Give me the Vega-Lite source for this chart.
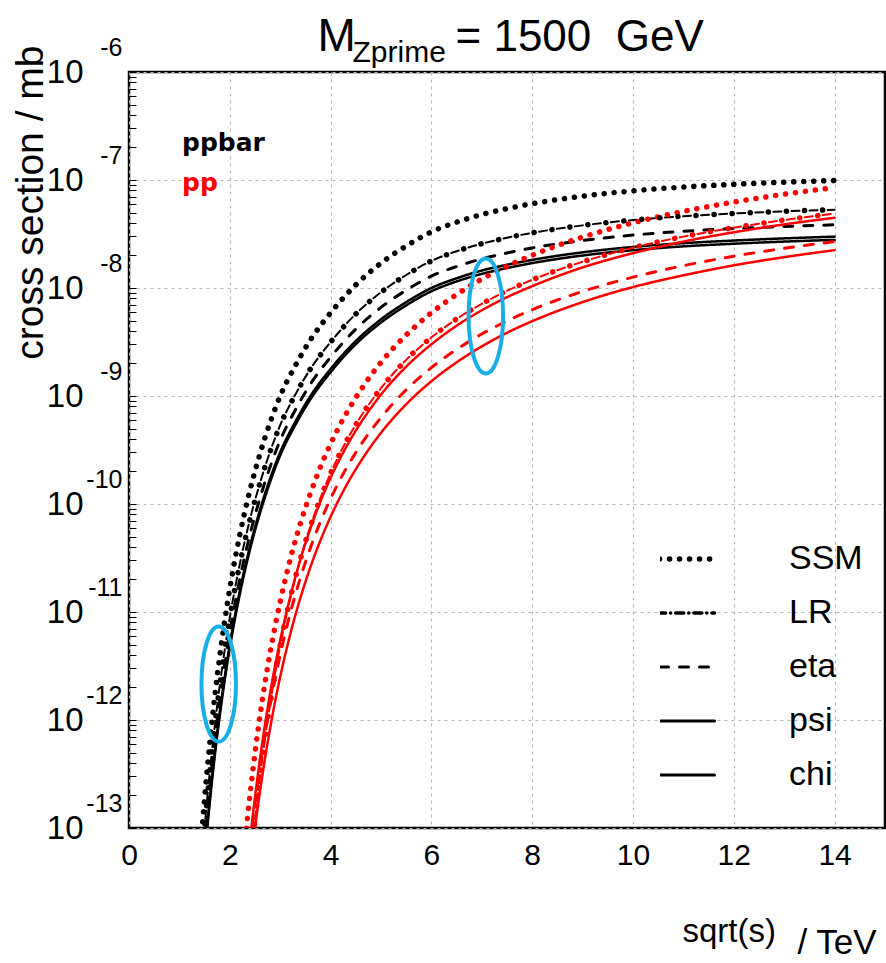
{
  "$schema": "https://vega.github.io/schema/vega-lite/v6.json",
  "width": 756,
  "height": 756,
  "autosize": "none",
  "padding": {"left": 129, "top": 72, "right": 1, "bottom": 135},
  "background": "white",
  "config": {
    "view": {"stroke": "black", "strokeWidth": 2.5},
    "font": "Liberation Sans",
    "axis": {"labelFont": "Liberation Sans", "titleFont": "Liberation Sans", "labelColor": "black", "titleColor": "black", "titleFontWeight": "normal"},
    "legend": {"labelFont": "Liberation Sans", "labelColor": "black"}
  },
  "datasets": {
    "curves": [
      {"rs":1.4,"sigma":4.85e-14,"model":"SSM","beam":"ppbar"},{"rs":1.5,"sigma":1.88e-13,"model":"SSM","beam":"ppbar"},{"rs":1.6,"sigma":5.96e-13,"model":"SSM","beam":"ppbar"},{"rs":1.7,"sigma":1.62e-12,"model":"SSM","beam":"ppbar"},{"rs":1.8,"sigma":3.87e-12,"model":"SSM","beam":"ppbar"},{"rs":1.9,"sigma":8.34e-12,"model":"SSM","beam":"ppbar"},{"rs":2.0,"sigma":1.65e-11,"model":"SSM","beam":"ppbar"},{"rs":2.2,"sigma":5.22e-11,"model":"SSM","beam":"ppbar"},{"rs":2.4,"sigma":1.34e-10,"model":"SSM","beam":"ppbar"},{"rs":2.6,"sigma":2.93e-10,"model":"SSM","beam":"ppbar"},{"rs":2.8,"sigma":5.69e-10,"model":"SSM","beam":"ppbar"},{"rs":3.0,"sigma":1e-9,"model":"SSM","beam":"ppbar"},{"rs":3.3,"sigma":1.91e-9,"model":"SSM","beam":"ppbar"},{"rs":3.6,"sigma":3.31e-9,"model":"SSM","beam":"ppbar"},{"rs":4.0,"sigma":5.89e-9,"model":"SSM","beam":"ppbar"},{"rs":4.5,"sigma":1.07e-8,"model":"SSM","beam":"ppbar"},{"rs":5.0,"sigma":1.7e-8,"model":"SSM","beam":"ppbar"},{"rs":5.5,"sigma":2.45e-8,"model":"SSM","beam":"ppbar"},{"rs":6,"sigma":3.31e-8,"model":"SSM","beam":"ppbar"},{"rs":6.5,"sigma":4.07e-8,"model":"SSM","beam":"ppbar"},{"rs":7,"sigma":4.79e-8,"model":"SSM","beam":"ppbar"},{"rs":7.5,"sigma":5.43e-8,"model":"SSM","beam":"ppbar"},{"rs":8,"sigma":6.03e-8,"model":"SSM","beam":"ppbar"},{"rs":9,"sigma":7.08e-8,"model":"SSM","beam":"ppbar"},{"rs":10,"sigma":7.94e-8,"model":"SSM","beam":"ppbar"},{"rs":11,"sigma":8.61e-8,"model":"SSM","beam":"ppbar"},{"rs":12,"sigma":9.12e-8,"model":"SSM","beam":"ppbar"},{"rs":13,"sigma":9.55e-8,"model":"SSM","beam":"ppbar"},{"rs":14,"sigma":9.89e-8,"model":"SSM","beam":"ppbar"},
      {"rs":1.4,"sigma":2.6e-14,"model":"LR","beam":"ppbar"},{"rs":1.5,"sigma":1.01e-13,"model":"LR","beam":"ppbar"},{"rs":1.6,"sigma":3.2e-13,"model":"LR","beam":"ppbar"},{"rs":1.7,"sigma":8.7e-13,"model":"LR","beam":"ppbar"},{"rs":1.8,"sigma":2.08e-12,"model":"LR","beam":"ppbar"},{"rs":1.9,"sigma":4.48e-12,"model":"LR","beam":"ppbar"},{"rs":2.0,"sigma":8.86e-12,"model":"LR","beam":"ppbar"},{"rs":2.2,"sigma":2.8e-11,"model":"LR","beam":"ppbar"},{"rs":2.4,"sigma":7.2e-11,"model":"LR","beam":"ppbar"},{"rs":2.6,"sigma":1.57e-10,"model":"LR","beam":"ppbar"},{"rs":2.8,"sigma":3.06e-10,"model":"LR","beam":"ppbar"},{"rs":3.0,"sigma":5.37e-10,"model":"LR","beam":"ppbar"},{"rs":3.3,"sigma":1.03e-9,"model":"LR","beam":"ppbar"},{"rs":3.6,"sigma":1.78e-9,"model":"LR","beam":"ppbar"},{"rs":4.0,"sigma":3.16e-9,"model":"LR","beam":"ppbar"},{"rs":4.5,"sigma":5.75e-9,"model":"LR","beam":"ppbar"},{"rs":5.0,"sigma":9.13e-9,"model":"LR","beam":"ppbar"},{"rs":5.5,"sigma":1.32e-8,"model":"LR","beam":"ppbar"},{"rs":6,"sigma":1.78e-8,"model":"LR","beam":"ppbar"},{"rs":6.5,"sigma":2.19e-8,"model":"LR","beam":"ppbar"},{"rs":7,"sigma":2.57e-8,"model":"LR","beam":"ppbar"},{"rs":7.5,"sigma":2.92e-8,"model":"LR","beam":"ppbar"},{"rs":8,"sigma":3.24e-8,"model":"LR","beam":"ppbar"},{"rs":9,"sigma":3.8e-8,"model":"LR","beam":"ppbar"},{"rs":10,"sigma":4.26e-8,"model":"LR","beam":"ppbar"},{"rs":11,"sigma":4.62e-8,"model":"LR","beam":"ppbar"},{"rs":12,"sigma":4.9e-8,"model":"LR","beam":"ppbar"},{"rs":13,"sigma":5.13e-8,"model":"LR","beam":"ppbar"},{"rs":14,"sigma":5.31e-8,"model":"LR","beam":"ppbar"},
      {"rs":1.4,"sigma":1.89e-14,"model":"eta","beam":"ppbar"},{"rs":1.5,"sigma":7.31e-14,"model":"eta","beam":"ppbar"},{"rs":1.6,"sigma":2.32e-13,"model":"eta","beam":"ppbar"},{"rs":1.7,"sigma":6.3e-13,"model":"eta","beam":"ppbar"},{"rs":1.8,"sigma":1.51e-12,"model":"eta","beam":"ppbar"},{"rs":1.9,"sigma":3.24e-12,"model":"eta","beam":"ppbar"},{"rs":2.0,"sigma":6.42e-12,"model":"eta","beam":"ppbar"},{"rs":2.2,"sigma":2.03e-11,"model":"eta","beam":"ppbar"},{"rs":2.4,"sigma":5.21e-11,"model":"eta","beam":"ppbar"},{"rs":2.6,"sigma":1.14e-10,"model":"eta","beam":"ppbar"},{"rs":2.8,"sigma":2.21e-10,"model":"eta","beam":"ppbar"},{"rs":3.0,"sigma":3.89e-10,"model":"eta","beam":"ppbar"},{"rs":3.3,"sigma":7.43e-10,"model":"eta","beam":"ppbar"},{"rs":3.6,"sigma":1.29e-9,"model":"eta","beam":"ppbar"},{"rs":4.0,"sigma":2.29e-9,"model":"eta","beam":"ppbar"},{"rs":4.5,"sigma":4.16e-9,"model":"eta","beam":"ppbar"},{"rs":5.0,"sigma":6.61e-9,"model":"eta","beam":"ppbar"},{"rs":5.5,"sigma":9.53e-9,"model":"eta","beam":"ppbar"},{"rs":6,"sigma":1.29e-8,"model":"eta","beam":"ppbar"},{"rs":6.5,"sigma":1.58e-8,"model":"eta","beam":"ppbar"},{"rs":7,"sigma":1.86e-8,"model":"eta","beam":"ppbar"},{"rs":7.5,"sigma":2.11e-8,"model":"eta","beam":"ppbar"},{"rs":8,"sigma":2.35e-8,"model":"eta","beam":"ppbar"},{"rs":9,"sigma":2.75e-8,"model":"eta","beam":"ppbar"},{"rs":10,"sigma":3.09e-8,"model":"eta","beam":"ppbar"},{"rs":11,"sigma":3.35e-8,"model":"eta","beam":"ppbar"},{"rs":12,"sigma":3.55e-8,"model":"eta","beam":"ppbar"},{"rs":13,"sigma":3.71e-8,"model":"eta","beam":"ppbar"},{"rs":14,"sigma":3.85e-8,"model":"eta","beam":"ppbar"},
      {"rs":1.4,"sigma":1.46e-14,"model":"psi","beam":"ppbar"},{"rs":1.5,"sigma":5.68e-14,"model":"psi","beam":"ppbar"},{"rs":1.6,"sigma":1.8e-13,"model":"psi","beam":"ppbar"},{"rs":1.7,"sigma":4.89e-13,"model":"psi","beam":"ppbar"},{"rs":1.8,"sigma":1.17e-12,"model":"psi","beam":"ppbar"},{"rs":1.9,"sigma":2.52e-12,"model":"psi","beam":"ppbar"},{"rs":2.0,"sigma":4.98e-12,"model":"psi","beam":"ppbar"},{"rs":2.2,"sigma":1.58e-11,"model":"psi","beam":"ppbar"},{"rs":2.4,"sigma":4.05e-11,"model":"psi","beam":"ppbar"},{"rs":2.6,"sigma":8.85e-11,"model":"psi","beam":"ppbar"},{"rs":2.8,"sigma":1.72e-10,"model":"psi","beam":"ppbar"},{"rs":3.0,"sigma":3.02e-10,"model":"psi","beam":"ppbar"},{"rs":3.3,"sigma":5.77e-10,"model":"psi","beam":"ppbar"},{"rs":3.6,"sigma":1.0e-9,"model":"psi","beam":"ppbar"},{"rs":4.0,"sigma":1.78e-9,"model":"psi","beam":"ppbar"},{"rs":4.5,"sigma":3.23e-9,"model":"psi","beam":"ppbar"},{"rs":5.0,"sigma":5.13e-9,"model":"psi","beam":"ppbar"},{"rs":5.5,"sigma":7.4e-9,"model":"psi","beam":"ppbar"},{"rs":6,"sigma":1.0e-8,"model":"psi","beam":"ppbar"},{"rs":6.5,"sigma":1.23e-8,"model":"psi","beam":"ppbar"},{"rs":7,"sigma":1.45e-8,"model":"psi","beam":"ppbar"},{"rs":7.5,"sigma":1.64e-8,"model":"psi","beam":"ppbar"},{"rs":8,"sigma":1.82e-8,"model":"psi","beam":"ppbar"},{"rs":9,"sigma":2.14e-8,"model":"psi","beam":"ppbar"},{"rs":10,"sigma":2.4e-8,"model":"psi","beam":"ppbar"},{"rs":11,"sigma":2.6e-8,"model":"psi","beam":"ppbar"},{"rs":12,"sigma":2.75e-8,"model":"psi","beam":"ppbar"},{"rs":13,"sigma":2.88e-8,"model":"psi","beam":"ppbar"},{"rs":14,"sigma":2.99e-8,"model":"psi","beam":"ppbar"},
      {"rs":1.4,"sigma":1.37e-14,"model":"chi","beam":"ppbar"},{"rs":1.5,"sigma":5.3e-14,"model":"chi","beam":"ppbar"},{"rs":1.6,"sigma":1.68e-13,"model":"chi","beam":"ppbar"},{"rs":1.7,"sigma":4.57e-13,"model":"chi","beam":"ppbar"},{"rs":1.8,"sigma":1.09e-12,"model":"chi","beam":"ppbar"},{"rs":1.9,"sigma":2.35e-12,"model":"chi","beam":"ppbar"},{"rs":2.0,"sigma":4.65e-12,"model":"chi","beam":"ppbar"},{"rs":2.2,"sigma":1.47e-11,"model":"chi","beam":"ppbar"},{"rs":2.4,"sigma":3.78e-11,"model":"chi","beam":"ppbar"},{"rs":2.6,"sigma":8.26e-11,"model":"chi","beam":"ppbar"},{"rs":2.8,"sigma":1.6e-10,"model":"chi","beam":"ppbar"},{"rs":3.0,"sigma":2.82e-10,"model":"chi","beam":"ppbar"},{"rs":3.3,"sigma":5.39e-10,"model":"chi","beam":"ppbar"},{"rs":3.6,"sigma":9.33e-10,"model":"chi","beam":"ppbar"},{"rs":4.0,"sigma":1.66e-9,"model":"chi","beam":"ppbar"},{"rs":4.5,"sigma":3.02e-9,"model":"chi","beam":"ppbar"},{"rs":5.0,"sigma":4.79e-9,"model":"chi","beam":"ppbar"},{"rs":5.5,"sigma":6.91e-9,"model":"chi","beam":"ppbar"},{"rs":6,"sigma":9.33e-9,"model":"chi","beam":"ppbar"},{"rs":6.5,"sigma":1.15e-8,"model":"chi","beam":"ppbar"},{"rs":7,"sigma":1.35e-8,"model":"chi","beam":"ppbar"},{"rs":7.5,"sigma":1.53e-8,"model":"chi","beam":"ppbar"},{"rs":8,"sigma":1.7e-8,"model":"chi","beam":"ppbar"},{"rs":9,"sigma":2.0e-8,"model":"chi","beam":"ppbar"},{"rs":10,"sigma":2.24e-8,"model":"chi","beam":"ppbar"},{"rs":11,"sigma":2.43e-8,"model":"chi","beam":"ppbar"},{"rs":12,"sigma":2.57e-8,"model":"chi","beam":"ppbar"},{"rs":13,"sigma":2.69e-8,"model":"chi","beam":"ppbar"},{"rs":14,"sigma":2.79e-8,"model":"chi","beam":"ppbar"},
      {"rs":2.2,"sigma":2.24e-14,"model":"SSM","beam":"pp"},{"rs":2.3,"sigma":7.26e-14,"model":"SSM","beam":"pp"},{"rs":2.4,"sigma":2.02e-13,"model":"SSM","beam":"pp"},{"rs":2.5,"sigma":4.95e-13,"model":"SSM","beam":"pp"},{"rs":2.6,"sigma":1.1e-12,"model":"SSM","beam":"pp"},{"rs":2.7,"sigma":2.22e-12,"model":"SSM","beam":"pp"},{"rs":2.8,"sigma":4.2e-12,"model":"SSM","beam":"pp"},{"rs":2.9,"sigma":7.43e-12,"model":"SSM","beam":"pp"},{"rs":3.0,"sigma":1.25e-11,"model":"SSM","beam":"pp"},{"rs":3.2,"sigma":3.08e-11,"model":"SSM","beam":"pp"},{"rs":3.4,"sigma":6.59e-11,"model":"SSM","beam":"pp"},{"rs":3.6,"sigma":1.26e-10,"model":"SSM","beam":"pp"},{"rs":3.8,"sigma":2.21e-10,"model":"SSM","beam":"pp"},{"rs":4.0,"sigma":3.61e-10,"model":"SSM","beam":"pp"},{"rs":4.3,"sigma":6.75e-10,"model":"SSM","beam":"pp"},{"rs":4.6,"sigma":1.14e-9,"model":"SSM","beam":"pp"},{"rs":5.0,"sigma":2.05e-9,"model":"SSM","beam":"pp"},{"rs":5.5,"sigma":3.67e-9,"model":"SSM","beam":"pp"},{"rs":6.0,"sigma":5.9e-9,"model":"SSM","beam":"pp"},{"rs":6.5,"sigma":8.69e-9,"model":"SSM","beam":"pp"},{"rs":7,"sigma":1.21e-8,"model":"SSM","beam":"pp"},{"rs":7.5,"sigma":1.59e-8,"model":"SSM","beam":"pp"},{"rs":8,"sigma":2.01e-8,"model":"SSM","beam":"pp"},{"rs":9,"sigma":2.96e-8,"model":"SSM","beam":"pp"},{"rs":10,"sigma":4.01e-8,"model":"SSM","beam":"pp"},{"rs":11,"sigma":5.12e-8,"model":"SSM","beam":"pp"},{"rs":12,"sigma":6.24e-8,"model":"SSM","beam":"pp"},{"rs":13,"sigma":7.38e-8,"model":"SSM","beam":"pp"},{"rs":14,"sigma":8.49e-8,"model":"SSM","beam":"pp"},
      {"rs":2.2,"sigma":2.58e-15,"model":"LR","beam":"pp"},{"rs":2.3,"sigma":1.12e-14,"model":"LR","beam":"pp"},{"rs":2.4,"sigma":3.94e-14,"model":"LR","beam":"pp"},{"rs":2.5,"sigma":1.16e-13,"model":"LR","beam":"pp"},{"rs":2.6,"sigma":2.97e-13,"model":"LR","beam":"pp"},{"rs":2.7,"sigma":6.79e-13,"model":"LR","beam":"pp"},{"rs":2.8,"sigma":1.41e-12,"model":"LR","beam":"pp"},{"rs":2.9,"sigma":2.72e-12,"model":"LR","beam":"pp"},{"rs":3.0,"sigma":4.88e-12,"model":"LR","beam":"pp"},{"rs":3.2,"sigma":1.34e-11,"model":"LR","beam":"pp"},{"rs":3.4,"sigma":3.09e-11,"model":"LR","beam":"pp"},{"rs":3.6,"sigma":6.25e-11,"model":"LR","beam":"pp"},{"rs":3.8,"sigma":1.14e-10,"model":"LR","beam":"pp"},{"rs":4.0,"sigma":1.93e-10,"model":"LR","beam":"pp"},{"rs":4.3,"sigma":3.73e-10,"model":"LR","beam":"pp"},{"rs":4.6,"sigma":6.47e-10,"model":"LR","beam":"pp"},{"rs":5.0,"sigma":1.18e-9,"model":"LR","beam":"pp"},{"rs":5.5,"sigma":2.16e-9,"model":"LR","beam":"pp"},{"rs":6.0,"sigma":3.49e-9,"model":"LR","beam":"pp"},{"rs":6.5,"sigma":5.16e-9,"model":"LR","beam":"pp"},{"rs":7,"sigma":7.14e-9,"model":"LR","beam":"pp"},{"rs":7.5,"sigma":9.42e-9,"model":"LR","beam":"pp"},{"rs":8,"sigma":1.19e-8,"model":"LR","beam":"pp"},{"rs":9,"sigma":1.75e-8,"model":"LR","beam":"pp"},{"rs":10,"sigma":2.36e-8,"model":"LR","beam":"pp"},{"rs":11,"sigma":2.99e-8,"model":"LR","beam":"pp"},{"rs":12,"sigma":3.62e-8,"model":"LR","beam":"pp"},{"rs":13,"sigma":4.26e-8,"model":"LR","beam":"pp"},{"rs":14,"sigma":4.89e-8,"model":"LR","beam":"pp"},
      {"rs":2.2,"sigma":7.46e-15,"model":"psi","beam":"pp"},{"rs":2.3,"sigma":2.58e-14,"model":"psi","beam":"pp"},{"rs":2.4,"sigma":7.52e-14,"model":"psi","beam":"pp"},{"rs":2.5,"sigma":1.92e-13,"model":"psi","beam":"pp"},{"rs":2.6,"sigma":4.4e-13,"model":"psi","beam":"pp"},{"rs":2.7,"sigma":9.18e-13,"model":"psi","beam":"pp"},{"rs":2.8,"sigma":1.77e-12,"model":"psi","beam":"pp"},{"rs":2.9,"sigma":3.21e-12,"model":"psi","beam":"pp"},{"rs":3.0,"sigma":5.48e-12,"model":"psi","beam":"pp"},{"rs":3.2,"sigma":1.39e-11,"model":"psi","beam":"pp"},{"rs":3.4,"sigma":3.05e-11,"model":"psi","beam":"pp"},{"rs":3.6,"sigma":5.94e-11,"model":"psi","beam":"pp"},{"rs":3.8,"sigma":1.06e-10,"model":"psi","beam":"pp"},{"rs":4.0,"sigma":1.75e-10,"model":"psi","beam":"pp"},{"rs":4.3,"sigma":3.31e-10,"model":"psi","beam":"pp"},{"rs":4.6,"sigma":5.66e-10,"model":"psi","beam":"pp"},{"rs":5.0,"sigma":1.03e-9,"model":"psi","beam":"pp"},{"rs":5.5,"sigma":1.87e-9,"model":"psi","beam":"pp"},{"rs":6.0,"sigma":3.01e-9,"model":"psi","beam":"pp"},{"rs":6.5,"sigma":4.47e-9,"model":"psi","beam":"pp"},{"rs":7,"sigma":6.22e-9,"model":"psi","beam":"pp"},{"rs":7.5,"sigma":8.22e-9,"model":"psi","beam":"pp"},{"rs":8,"sigma":1.04e-8,"model":"psi","beam":"pp"},{"rs":9,"sigma":1.55e-8,"model":"psi","beam":"pp"},{"rs":10,"sigma":2.1e-8,"model":"psi","beam":"pp"},{"rs":11,"sigma":2.69e-8,"model":"psi","beam":"pp"},{"rs":12,"sigma":3.28e-8,"model":"psi","beam":"pp"},{"rs":13,"sigma":3.88e-8,"model":"psi","beam":"pp"},{"rs":14,"sigma":4.47e-8,"model":"psi","beam":"pp"},
      {"rs":2.2,"sigma":8.49e-15,"model":"eta","beam":"pp"},{"rs":2.3,"sigma":2.64e-14,"model":"eta","beam":"pp"},{"rs":2.4,"sigma":7.13e-14,"model":"eta","beam":"pp"},{"rs":2.5,"sigma":1.71e-13,"model":"eta","beam":"pp"},{"rs":2.6,"sigma":3.71e-13,"model":"eta","beam":"pp"},{"rs":2.7,"sigma":7.4e-13,"model":"eta","beam":"pp"},{"rs":2.8,"sigma":1.38e-12,"model":"eta","beam":"pp"},{"rs":2.9,"sigma":2.42e-12,"model":"eta","beam":"pp"},{"rs":3.0,"sigma":4.02e-12,"model":"eta","beam":"pp"},{"rs":3.2,"sigma":9.77e-12,"model":"eta","beam":"pp"},{"rs":3.4,"sigma":2.07e-11,"model":"eta","beam":"pp"},{"rs":3.6,"sigma":3.94e-11,"model":"eta","beam":"pp"},{"rs":3.8,"sigma":6.89e-11,"model":"eta","beam":"pp"},{"rs":4.0,"sigma":1.12e-10,"model":"eta","beam":"pp"},{"rs":4.3,"sigma":2.09e-10,"model":"eta","beam":"pp"},{"rs":4.6,"sigma":3.53e-10,"model":"eta","beam":"pp"},{"rs":5.0,"sigma":6.32e-10,"model":"eta","beam":"pp"},{"rs":5.5,"sigma":1.14e-9,"model":"eta","beam":"pp"},{"rs":6.0,"sigma":1.83e-9,"model":"eta","beam":"pp"},{"rs":6.5,"sigma":2.7e-9,"model":"eta","beam":"pp"},{"rs":7,"sigma":3.75e-9,"model":"eta","beam":"pp"},{"rs":7.5,"sigma":4.95e-9,"model":"eta","beam":"pp"},{"rs":8,"sigma":6.3e-9,"model":"eta","beam":"pp"},{"rs":9,"sigma":9.29e-9,"model":"eta","beam":"pp"},{"rs":10,"sigma":1.26e-8,"model":"eta","beam":"pp"},{"rs":11,"sigma":1.61e-8,"model":"eta","beam":"pp"},{"rs":12,"sigma":1.97e-8,"model":"eta","beam":"pp"},{"rs":13,"sigma":2.33e-8,"model":"eta","beam":"pp"},{"rs":14,"sigma":2.69e-8,"model":"eta","beam":"pp"},
      {"rs":2.2,"sigma":4.79e-15,"model":"chi","beam":"pp"},{"rs":2.3,"sigma":1.51e-14,"model":"chi","beam":"pp"},{"rs":2.4,"sigma":4.12e-14,"model":"chi","beam":"pp"},{"rs":2.5,"sigma":1e-13,"model":"chi","beam":"pp"},{"rs":2.6,"sigma":2.2e-13,"model":"chi","beam":"pp"},{"rs":2.7,"sigma":4.45e-13,"model":"chi","beam":"pp"},{"rs":2.8,"sigma":8.38e-13,"model":"chi","beam":"pp"},{"rs":2.9,"sigma":1.49e-12,"model":"chi","beam":"pp"},{"rs":3.0,"sigma":2.51e-12,"model":"chi","beam":"pp"},{"rs":3.2,"sigma":6.24e-12,"model":"chi","beam":"pp"},{"rs":3.4,"sigma":1.35e-11,"model":"chi","beam":"pp"},{"rs":3.6,"sigma":2.61e-11,"model":"chi","beam":"pp"},{"rs":3.8,"sigma":4.62e-11,"model":"chi","beam":"pp"},{"rs":4.0,"sigma":7.62e-11,"model":"chi","beam":"pp"},{"rs":4.3,"sigma":1.45e-10,"model":"chi","beam":"pp"},{"rs":4.6,"sigma":2.49e-10,"model":"chi","beam":"pp"},{"rs":5.0,"sigma":4.56e-10,"model":"chi","beam":"pp"},{"rs":5.5,"sigma":8.38e-10,"model":"chi","beam":"pp"},{"rs":6.0,"sigma":1.37e-9,"model":"chi","beam":"pp"},{"rs":6.5,"sigma":2.05e-9,"model":"chi","beam":"pp"},{"rs":7,"sigma":2.88e-9,"model":"chi","beam":"pp"},{"rs":7.5,"sigma":3.85e-9,"model":"chi","beam":"pp"},{"rs":8,"sigma":4.93e-9,"model":"chi","beam":"pp"},{"rs":9,"sigma":7.4e-9,"model":"chi","beam":"pp"},{"rs":10,"sigma":1.02e-8,"model":"chi","beam":"pp"},{"rs":11,"sigma":1.31e-8,"model":"chi","beam":"pp"},{"rs":12,"sigma":1.62e-8,"model":"chi","beam":"pp"},{"rs":13,"sigma":1.93e-8,"model":"chi","beam":"pp"},{"rs":14,"sigma":2.24e-8,"model":"chi","beam":"pp"}
    ],
    "notes": [
      {"rs": 1.78, "sigma": 2.15e-12, "note": "ppbar threshold"},
      {"rs": 7.08, "sigma": 5.51e-9, "note": "pp at 7 TeV"}
    ]
  },
  "layer": [
    {
      "data": {"name": "curves"},
      "mark": {"type": "line", "interpolate": "monotone", "clip": true, "strokeCap": "round"},
      "encoding": {
        "x": {"field": "rs", "type": "quantitative",
          "scale": {"domain": [0, 15], "nice": false, "zero": false},
          "axis": {"orient": "bottom", "values": [0, 2, 4, 6, 8, 10, 12, 14], "format": "d", "labelFontSize": 30, "labelPadding": 12, "labelFlush": false, "ticks": false, "tickSize": 0, "domain": false,
            "grid": true, "gridDash": [3, 4], "gridColor": "#b4b4b4", "gridWidth": 1,
            "title": "sqrt(s)", "titleX": 553, "titleY": 113, "titleAlign": "left", "titleBaseline": "alphabetic", "titleFontSize": 33}},
        "y": {"field": "sigma", "type": "quantitative",
          "scale": {"type": "log", "domain": [1e-13, 1e-6], "nice": false},
          "axis": {"orient": "left", "values": [1e-13, 1e-12, 1e-11, 1e-10, 1e-9, 1e-8, 1e-7, 1e-6], "labelExpr": "'10'", "labelFontSize": 33, "labelPadding": 46, "ticks": false, "tickSize": 0, "domain": false,
            "grid": true, "gridDash": [3, 4], "gridColor": "#b4b4b4", "gridWidth": 1,
            "title": "cross section / mb", "titleAlign": "right", "titleBaseline": "alphabetic", "titleX": -87, "titleY": -27, "titleFontSize": 39}},
        "color": {"field": "beam", "type": "nominal",
          "scale": {"domain": ["ppbar", "pp"], "range": ["#000000", "#ff0000"]},
          "legend": {"title": null, "orient": "none", "legendX": 28, "legendY": 58, "padding": 0, "symbolOpacity": 0, "symbolSize": 1, "labelOffset": 0,
            "labelFont": "DejaVu Sans", "labelFontWeight": "bold", "labelFontSize": 25, "rowPadding": 14,
            "encode": {"labels": {"update": {"fill": {"scale": "color", "field": "value"}}}}}},
        "strokeDash": {"field": "model", "type": "nominal",
          "scale": {"domain": ["SSM", "LR", "eta", "psi", "chi"], "range": [[0.1, 9.9], [8, 5, 0.1, 5], [9, 11], [1, 0], [1, 0]]},
          "legend": {"title": null, "orient": "none", "legendX": 531, "legendY": 472, "padding": 0, "symbolType": "stroke", "symbolSize": 5625, "symbolStrokeColor": "black", "symbolStrokeWidth": 3,
            "labelFontSize": 34, "labelOffset": 95, "rowPadding": 20, "clipHeight": 30,
            "encode": {"symbols": {"update": {"strokeCap": {"value": "round"}, "strokeWidth": {"signal": "datum.value === 'SSM' ? 5.5 : datum.value === 'LR' ? 3.5 : 3"}}}}}},
        "strokeWidth": {"condition": [{"test": "datum.model === 'SSM'", "value": 5.5}, {"test": "datum.model === 'LR'", "value": 2}, {"test": "datum.model === 'eta'", "value": 3}], "value": 2.5}
      }
    },
    {
      "data": {"name": "curves"},
      "transform": [{"filter": "datum.model === 'LR'"}],
      "mark": {"type": "line", "interpolate": "monotone", "clip": true, "strokeCap": "round", "strokeDash": [0.1, 18], "strokeDashOffset": 5.1, "strokeWidth": 5.5},
      "encoding": {
        "x": {"field": "rs", "type": "quantitative",
          "axis": {"orient": "bottom", "labels": false, "ticks": false, "domain": false, "grid": false,
            "title": "/ TeV", "titleX": 668, "titleY": 125, "titleAlign": "left", "titleBaseline": "alphabetic", "titleFontSize": 35}},
        "y": {"field": "sigma", "type": "quantitative",
          "axis": {"orient": "left", "values": [1e-13, 1e-12, 1e-11, 1e-10, 1e-9, 1e-8, 1e-7, 1e-6], "labelExpr": "'' + round(log(datum.value) / LN10)", "labelFontSize": 25, "labelPadding": 7, "labelOffset": -25, "ticks": false, "tickSize": 0, "domain": false, "grid": false, "title": null}},
        "color": {"field": "beam", "type": "nominal", "legend": null}
      }
    },
    {
      "data": {"name": "notes"},
      "transform": [{"filter": "datum.note === 'ppbar threshold'"}],
      "mark": {"type": "point", "filled": false, "shape": "M0,-1A0.3,1,0,1,1,0,1A0.3,1,0,1,1,0,-1Z", "size": 13225, "stroke": "#18aee6", "strokeWidth": 4, "opacity": 1},
      "encoding": {
        "x": {"field": "rs", "type": "quantitative",
          "axis": {"orient": "top", "labels": false, "ticks": false, "domain": false, "grid": false,
            "title": "M", "titleX": 188, "titleY": -22, "titleAlign": "left", "titleBaseline": "alphabetic", "titleFontSize": 46}},
        "y": {"field": "sigma", "type": "quantitative",
          "axis": {"orient": "right", "labels": false, "ticks": false, "domain": false, "grid": false,
            "title": "Zprime", "titleAngle": 0, "titleX": -533, "titleY": -11, "titleAlign": "left", "titleBaseline": "alphabetic", "titleFontSize": 30}}
      }
    },
    {
      "data": {"name": "notes"},
      "transform": [{"filter": "datum.note === 'pp at 7 TeV'"}],
      "mark": {"type": "point", "filled": false, "shape": "M0,-1A0.3,1,0,1,1,0,1A0.3,1,0,1,1,0,-1Z", "size": 13225, "stroke": "#18aee6", "strokeWidth": 4, "opacity": 1},
      "encoding": {
        "x": {"field": "rs", "type": "quantitative",
          "axis": {"orient": "top", "labels": false, "ticks": false, "domain": false, "grid": false,
            "title": "= 1500\u00a0 GeV", "titleX": 326, "titleY": -22, "titleAlign": "left", "titleBaseline": "alphabetic", "titleFontSize": 44}},
        "y": {"field": "sigma", "type": "quantitative",
          "axis": {"orient": "left", "labels": false, "domain": false, "grid": false, "title": null, "ticks": true, "tickSize": -7, "tickColor": "black", "tickWidth": 1,
            "values": [1e-13,2e-13,3e-13,4e-13,5e-13,6e-13,7e-13,8e-13,9e-13,1e-12,2e-12,3e-12,4e-12,5e-12,6e-12,7e-12,8e-12,9e-12,1e-11,2e-11,3e-11,4e-11,5e-11,6e-11,7e-11,8e-11,9e-11,1e-10,2e-10,3e-10,4e-10,5e-10,6e-10,7e-10,8e-10,9e-10,1e-9,2e-9,3e-9,4e-9,5e-9,6e-9,7e-9,8e-9,9e-9,1e-8,2e-8,3e-8,4e-8,5e-8,6e-8,7e-8,8e-8,9e-8,1e-7,2e-7,3e-7,4e-7,5e-7,6e-7,7e-7,8e-7,9e-7,1e-6]}}
      }
    }
  ],
  "resolve": {"axis": {"x": "independent", "y": "independent"}}
}
